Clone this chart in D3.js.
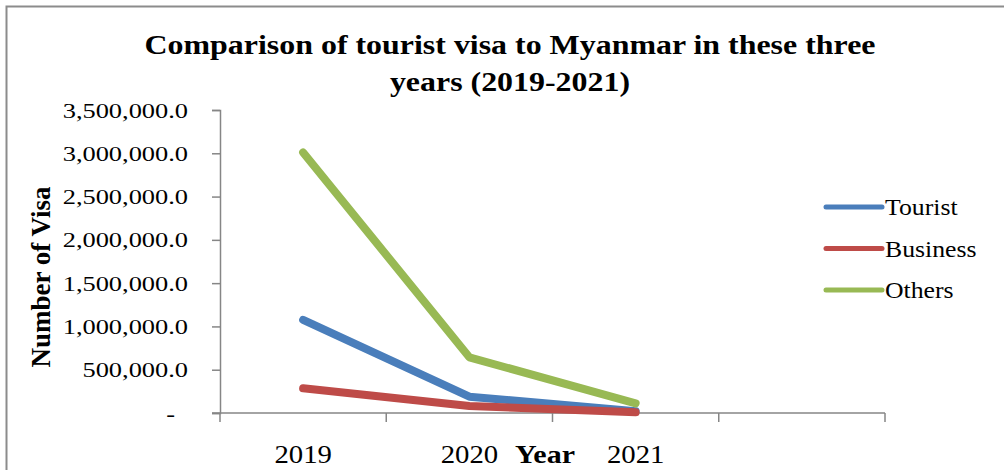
<!DOCTYPE html>
<html>
<head>
<meta charset="utf-8">
<script src="https://cdn.jsdelivr.net/npm/d3@7"></script>
<style>
  html, body { margin: 0; padding: 0; background: #fff; }
  svg { display: block; }
  text { font-family: "Liberation Serif", "Times New Roman", serif; fill: #000; }
</style>
</head>
<body>
<svg id="chart" width="1004" height="470"></svg>
<script>
// ---- data ----
const categories = ["2019", "2020", "2021", ""];
const seriesNames = ["Tourist", "Business", "Others"];
const tourist  = [1075000, 188000, 20000];
const business = [285000, 80000, 8000];
const others   = [3010000, 643000, 112000];
const yTicks = [0, 500000, 1000000, 1500000, 2000000, 2500000, 3000000, 3500000];
const titleLines = ["Comparison of tourist visa to Myanmar in these three", "years (2019-2021)"];

const colors = ["#4A7EBB", "#BE4B48", "#98B954"];
const seriesData = [tourist, business, others];

const svg = d3.select("#chart");

// horizontal stretch helper (around the text anchor point)
function stretch(sel, s) {
  sel.each(function () {
    const t = d3.select(this);
    const tx = +t.attr("x") || 0, ty = +t.attr("y") || 0;
    const prev = t.attr("transform") || "";
    t.attr("transform", `${prev} translate(${tx},${ty}) scale(${s},1) translate(${-tx},${-ty})`);
  });
}

// outer border
svg.append("rect").attr("x", 6.5).attr("y", 6.5).attr("width", 1010).attr("height", 480)
  .attr("fill", "none").attr("stroke", "#8c8c8c").attr("stroke-width", 2);

const mLeft = 220, mRight = 885, mTop = 110, mBottom = 413;

const x = d3.scaleBand().domain(categories.map((c, i) => i)).range([mLeft, mRight]).paddingInner(0).paddingOuter(0);
const y = d3.scaleLinear().domain([0, 3500000]).range([mBottom, mTop]);

// title
svg.selectAll(".title").data(titleLines).join("text").attr("class", "title")
  .attr("x", 510).attr("y", (d, i) => 54 + i * 37).attr("text-anchor", "middle")
  .style("font-weight", "bold").style("font-size", "28px").text(d => d)
  .call(stretch, 1.14);

// y axis
const fmt = d3.format(",.1f");
const yAxis = d3.axisLeft(y).tickValues(yTicks).tickSize(8).tickPadding(24)
  .tickFormat(d => d === 0 ? "-" : fmt(d));
const gy = svg.append("g").attr("transform", `translate(${mLeft},0)`).call(yAxis);
gy.select(".domain").attr("stroke", "#868686").attr("stroke-width", 1.5);
gy.selectAll(".tick line").attr("stroke", "#868686").attr("stroke-width", 1.5);
gy.selectAll(".tick text").style("font-size", "22px").style("font-family", "Liberation Serif, serif").attr("fill", "#000");
gy.selectAll(".tick text").filter(d => d === 0).attr("x", -45);
gy.selectAll(".tick text").call(stretch, 1.2);

// x axis
const xAxis = d3.axisBottom(x).tickSize(0).tickFormat(i => categories[i]);
const gx = svg.append("g").attr("transform", `translate(0,${mBottom})`).call(xAxis);
gx.select(".domain").attr("stroke", "#868686").attr("stroke-width", 1.5).attr("d", `M${mLeft - 8},0H${mRight}`);
gx.selectAll(".tick text").style("font-size", "25px").style("font-family", "Liberation Serif, serif")
  .attr("fill", "#000").attr("dy", 0).attr("y", 50).call(stretch, 1.15);
// boundary tick marks
const bounds = categories.map((c, i) => x(i)).concat([mRight]);
gx.selectAll(".bound").data(bounds).join("line").attr("class", "bound")
  .attr("x1", d => d).attr("x2", d => d).attr("y1", 0).attr("y2", 9)
  .attr("stroke", "#868686").attr("stroke-width", 1.5);

// axis titles
svg.append("text").attr("x", 545).attr("y", 463).attr("text-anchor", "middle")
  .style("font-weight", "bold").style("font-size", "25px").text("Year").call(stretch, 1.2);
svg.append("text").attr("transform", "translate(50,277) rotate(-90)").attr("text-anchor", "middle")
  .style("font-weight", "bold").style("font-size", "27px").text("Number of Visa");

// lines
const line = d3.line().x((d, i) => x(i) + x.bandwidth() / 2).y(d => y(d));
svg.append("g").selectAll("path").data(seriesData).join("path")
  .attr("d", d => line(d)).attr("fill", "none")
  .attr("stroke", (d, i) => colors[i]).attr("stroke-width", 8)
  .attr("stroke-linecap", "round").attr("stroke-linejoin", "round");

// legend
const lg = svg.append("g").attr("transform", "translate(826,0)");
const items = lg.selectAll("g").data(seriesNames).join("g")
  .attr("transform", (d, i) => `translate(0,${207 + i * 41.5})`);
items.append("line").attr("x1", 0).attr("x2", 56).attr("y1", 0).attr("y2", 0)
  .attr("stroke", (d, i) => colors[i]).attr("stroke-width", 5).attr("stroke-linecap", "round");
items.append("text").attr("x", 59).attr("y", 8).style("font-size", "23px").text(d => d).call(stretch, 1.12);
</script>
</body>
</html>
